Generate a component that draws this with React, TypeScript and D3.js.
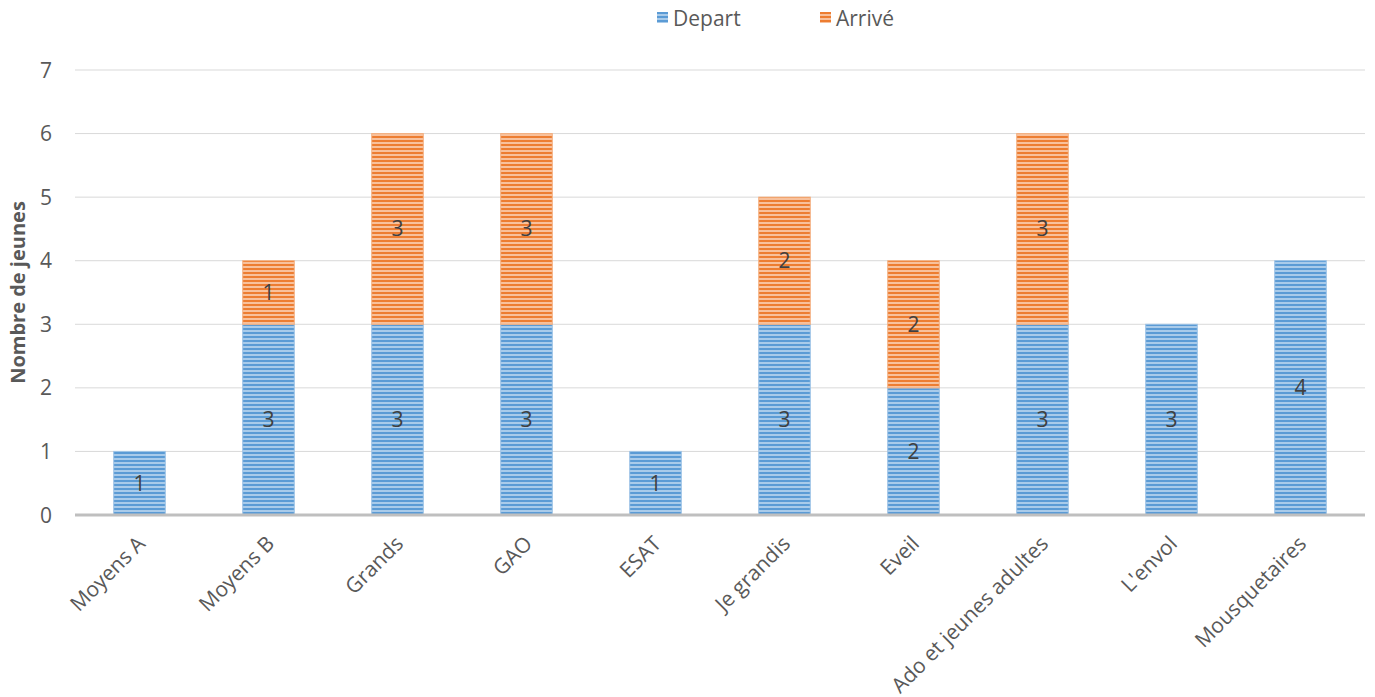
import React from "react";
import * as d3 from "d3";

const categories = ["Moyens A", "Moyens B", "Grands", "GAO", "ESAT", "Je grandis", "Eveil", "Ado et jeunes adultes", "L'envol", "Mousquetaires"];
const depart = [1, 3, 3, 3, 1, 3, 2, 3, 3, 4];
const arrive = [0, 1, 3, 3, 0, 2, 2, 3, 0, 0];
const yTicks = [0, 1, 2, 3, 4, 5, 6, 7];
const seriesNames = ["Depart", "Arrivé"];

const W = 1375, H = 697;
const left = 75, right = 1365, top = 70, bottom = 515;
const FONT = "'Open Sans', 'Noto Sans', sans-serif";
const FS = 21;

export default function App() {
  const x = d3.scaleBand<string>().domain(categories).range([left, right]).paddingInner(0.6).paddingOuter(0.3);
  const y = d3.scaleLinear().domain([0, 7]).range([bottom, top]);
  const rows = categories.map((c, i) => ({ cat: c, Depart: depart[i], Arrive: arrive[i] }));
  const stack = d3.stack<any>().keys(["Depart", "Arrive"])(rows);
  const fills = ["url(#pBlue)", "url(#pOrange)"];
  const edges = ["#9DC3E6", "#F4B183"];
  return (
    <svg width={W} height={H} style={{ position: "absolute", left: 0, top: 0, background: "#fff" }} fontFamily={FONT}>
      <defs>
        <pattern id="pBlue" width="4" height="4" patternUnits="userSpaceOnUse">
          <rect width="4" height="4" fill="#A9CBEA" />
          <rect width="4" height="2" fill="#5B9BD5" />
        </pattern>
        <pattern id="pOrange" width="4" height="4" patternUnits="userSpaceOnUse">
          <rect width="4" height="4" fill="#F8C19C" />
          <rect width="4" height="2" fill="#ED7D31" />
        </pattern>
      </defs>
      {yTicks.filter(t => t > 0).map(t => (
        <line key={t} x1={left} x2={right} y1={y(t)} y2={y(t)} stroke="#D9D9D9" strokeWidth={1} />
      ))}
      {yTicks.map(t => (
        <text key={"t" + t} x={52} y={y(t)} dy="0.36em" textAnchor="end" fontSize={FS} fill="#595959">{t}</text>
      ))}
      {stack.map((s, si) => (
        <g key={si}>
          {s.map((d, i) => {
            const v = d[1] - d[0];
            if (v <= 0) return null;
            const x0 = x(categories[i])!;
            const y0 = y(d[1]);
            const h = y(d[0]) - y(d[1]);
            return (
              <g key={i}>
                <rect x={x0} y={y0} width={x.bandwidth()} height={h} fill={fills[si]} stroke={edges[si]} strokeWidth={1} />
                <text x={x0 + x.bandwidth() / 2} y={y0 + h / 2} dy="0.36em" textAnchor="middle" fontSize={FS} fill="#404040">{v}</text>
              </g>
            );
          })}
        </g>
      ))}
      <line x1={left} x2={right} y1={bottom} y2={bottom} stroke="#BFBFBF" strokeWidth={3} />
      {categories.map(c => {
        const cx = x(c)! + x.bandwidth() / 2;
        return (
          <text key={c} transform={`translate(${cx + 7},${bottom + 30}) rotate(-45)`} textAnchor="end" fontSize={FS} fill="#595959">{c}</text>
        );
      })}
      <text transform={`translate(25,${(top + bottom) / 2}) rotate(-90)`} textAnchor="middle" fontSize={20} fontWeight="bold" fill="#595959">Nombre de jeunes</text>
      {seriesNames.map((n, i) => {
        const lx = i === 0 ? 657 : 820;
        return (
          <g key={n}>
            <rect x={lx} y={12} width={11} height={11} fill={fills[i]} />
            <text x={lx + 16} y={18} dy="0.36em" fontSize={FS} fill="#595959">{n}</text>
          </g>
        );
      })}
    </svg>
  );
}
